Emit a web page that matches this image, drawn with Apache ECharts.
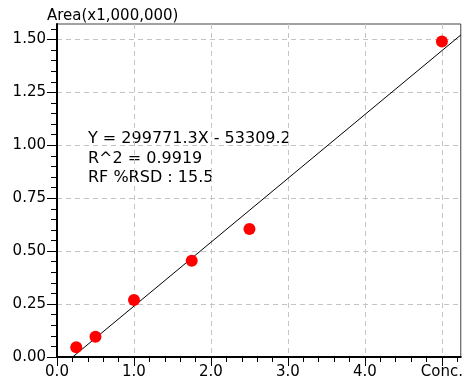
<!DOCTYPE html>
<html>
<head>
<meta charset="utf-8">
<script src="https://cdn.jsdelivr.net/npm/echarts@6/dist/echarts.min.js"></script>
<style>html,body{margin:0;padding:0;background:#fff;}#c{width:466px;height:387px;}</style>
</head>
<body>
<div id="c"></div>
<script>
// Data
const concX = [0.25, 0.5, 1.0, 1.75, 2.5, 5.0];
const areaY = [0.046, 0.096, 0.269, 0.455, 0.605, 1.49];
const fitLineX = [0.21, 5.245];
const fitLineY = [0.002, 1.521];
const xTickValues = [0, 1, 2, 3, 4, 5];
const xTickLabels = ['0.0', '1.0', '2.0', '3.0', '4.0', 'Conc.'];
const yTickValues = [0, 0.25, 0.5, 0.75, 1.0, 1.25, 1.5];
const yTickLabels = ['0.00', '0.25', '0.50', '0.75', '1.00', '1.25', '1.50'];
const yAxisTitle = 'Area(x1,000,000)';
const annotations = ['Y = 299771.3X - 53309.2', 'R^2 = 0.9919', 'RF %RSD : 15.5'];

const X_MAX = 5.245, Y_MAX = 1.573;
const xMinor = []; for (let i = 0; i <= 26; i++) xMinor.push(+(i * 0.2).toFixed(2));
const yMinor = []; for (let i = 0; i <= 31; i++) yMinor.push(+(i * 0.05).toFixed(2));

const FONT = 'DejaVu Sans';
const chart = echarts.init(document.getElementById('c'), null, {renderer: 'canvas'});

const pts = concX.map((x, i) => [x, areaY[i]]);
const fit = fitLineX.map((x, i) => [x, fitLineY[i]]);

chart.setOption({
  animation: false,
  backgroundColor: '#fff',
  grid: {left: 57, right: 3, top: 24, bottom: 30, show: true, borderColor: '#444', borderWidth: 1, backgroundColor: 'transparent'},
  xAxis: [{
    type: 'value', min: 0, max: X_MAX, position: 'bottom',
    axisLine: {show: true, lineStyle: {color: '#000', width: 2}},
    axisTick: {show: true, customValues: xTickValues, length: 9, lineStyle: {color: '#000', width: 1}},
    axisLabel: {show: true, customValues: xTickValues, margin: 8, color: '#000', fontFamily: FONT, fontSize: 15,
      formatter: v => { const i = xTickValues.indexOf(v); return i >= 0 ? xTickLabels[i] : ''; }},
    splitLine: {show: true, lineStyle: {color: '#c4c4c4', type: [5, 4], width: 1}}
  }, {
    type: 'value', min: 0, max: X_MAX, position: 'bottom', offset: 0,
    axisLine: {show: false},
    axisTick: {show: true, customValues: xMinor, length: 5, lineStyle: {color: '#000', width: 1}},
    axisLabel: {show: false},
    splitLine: {show: false}
  }],
  yAxis: [{
    type: 'value', min: 0, max: Y_MAX, position: 'left',
    axisLine: {show: true, lineStyle: {color: '#000', width: 2}},
    axisTick: {show: true, customValues: yTickValues, length: 10, lineStyle: {color: '#000', width: 1}},
    axisLabel: {show: true, customValues: yTickValues, margin: 11, color: '#000', fontFamily: FONT, fontSize: 15,
      formatter: v => { const i = yTickValues.indexOf(v); return i >= 0 ? yTickLabels[i] : ''; }},
    splitLine: {show: true, lineStyle: {color: '#c4c4c4', type: [5, 4], width: 1}}
  }, {
    type: 'value', min: 0, max: Y_MAX, position: 'left', offset: 0,
    axisLine: {show: false},
    axisTick: {show: true, customValues: yMinor, length: 6, lineStyle: {color: '#000', width: 1}},
    axisLabel: {show: false},
    splitLine: {show: false}
  }],
  series: [{
    type: 'line', data: fit, xAxisIndex: 0, yAxisIndex: 0, symbol: 'none',
    lineStyle: {color: '#000', width: 1}, clip: true, z: 2
  }, {
    type: 'scatter', data: pts, xAxisIndex: 0, yAxisIndex: 0, symbol: 'circle', symbolSize: 12,
    itemStyle: {color: '#ff0000', opacity: 1}, z: 3
  }],
  graphic: [
    {type: 'text', left: 47, top: 8.7, style: {text: yAxisTitle, fill: '#000', font: '15px "DejaVu Sans"'}},
    {type: 'text', left: 88, top: 130.5, style: {text: annotations[0], fill: '#000', font: '16px "DejaVu Sans"'}},
    {type: 'text', left: 88, top: 150.5, style: {text: annotations[1], fill: '#000', font: '16px "DejaVu Sans"'}},
    {type: 'text', left: 88, top: 169.5, style: {text: annotations[2], fill: '#000', font: '16px "DejaVu Sans"'}}
  ]
});
</script>
</body>
</html>
